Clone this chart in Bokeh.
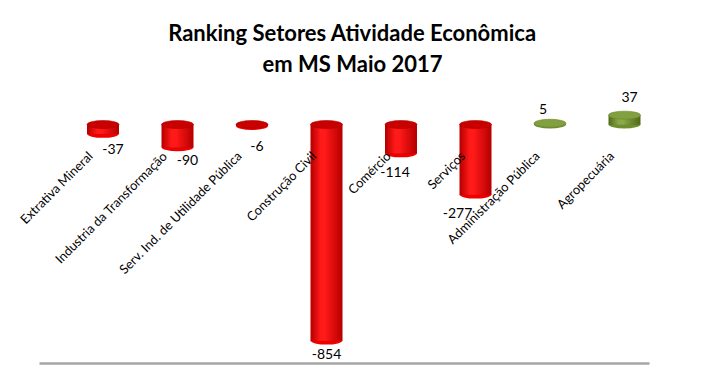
import numpy as np
from bokeh.plotting import figure
from bokeh.models import ColumnDataSource, Range1d
from bokeh.core.properties import value
from bokeh.embed import file_html
from bokeh.resources import INLINE

# ---- data ----
title_lines = ["Ranking Setores Atividade Econômica", "em MS Maio 2017"]
categories = ["Extrativa Mineral", "Industria da Transformação",
              "Serv. Ind. de Utilidade Pública", "Construção Civil",
              "Comércio", "Serviços", "Administração Pública", "Agropecuária"]
values = [-37, -90, -6, -854, -114, -277, 5, 37]

# ---- layout / style ----
W, H = 706, 379
SY = 0.253            # px per unit
ZERO_PX = 124         # zero plane, px from top
STEP_PX = 74.5        # px between bar centres
FIRST_PX = 102.5      # first bar centre, px from left
# data-label pixel offsets (3D perspective placement of the original)
label_dx = [10, 10, 5, 0, -6, -18, -7, 5]
label_dy = [15, 13, 20, 13, 19, 18, -14, -18]

y_top = ZERO_PX / SY
y_bot = y_top - H / SY
x_start = -FIRST_PX / STEP_PX
x_end = x_start + W / STEP_PX

def px2x(px):
    return x_start + px / STEP_PX

def px2y(py):
    return y_top - py / SY

p = figure(width=W, height=H, output_backend="svg", toolbar_location=None,
           x_range=Range1d(x_start, x_end), y_range=Range1d(y_bot, y_top),
           x_axis_location=None, y_axis_location=None, min_border=0)
p.grid.visible = False
p.outline_line_color = None
p.background_fill_color = "white"

FONT = "Lato"
bw = 32 / STEP_PX
NL = 10

def hex2rgb(h):
    return np.array([int(h[i:i + 2], 16) for i in (1, 3, 5)], dtype=float)

def ramp(c0, c1, n):
    a, b = hex2rgb(c0), hex2rgb(c1)
    out = []
    for t in np.linspace(0, 1, n):
        c = a + (b - a) * t
        out.append("#%02x%02x%02x" % tuple(int(round(v)) for v in c))
    return out

red_layers = ramp("#b80000", "#ff1a1a", NL)
green_layers = ramp("#516c1c", "#8aa948", NL)

xs = np.arange(len(categories))
vals = np.array(values, dtype=float)
ELL_H = 8

# bottom ellipses
bot_y = np.minimum(vals, 0)
bot_col = ["#ee0000" if v < 0 else "#6f8e30" for v in vals]
p.ellipse(x=xs, y=bot_y, width=bw, height=ELL_H, height_units="screen",
          fill_color=bot_col, line_color=None)

# bodies as nested shaded layers (highlight slightly left of centre)
lx, lw, ltop, lbot, lcol = [], [], [], [], []
for j in range(NL):
    frac = 1 - 0.9 * j / NL
    shift = -0.12 * bw * j / NL
    for i, v in enumerate(vals):
        cols = red_layers if v < 0 else green_layers
        lx.append(i + shift)
        lw.append(bw * frac)
        ltop.append(max(v, 0))
        lbot.append(min(v, 0))
        lcol.append(cols[j])
src = ColumnDataSource(dict(x=lx, w=lw, top=ltop, bottom=lbot, color=lcol))
p.vbar(x="x", top="top", bottom="bottom", width="w",
       fill_color="color", line_color=None, source=src)

# top caps
cap_y = np.maximum(vals, 0)
cap_col = ["#c80000" if v < 0 else "#82a03f" for v in vals]
cap_line = ["#b00000" if v < 0 else "#6a872c" for v in vals]
p.ellipse(x=xs, y=cap_y, width=bw, height=ELL_H, height_units="screen",
          fill_color=cap_col, line_color=cap_line, line_width=0.6)

# floor line
p.segment(x0=[px2x(39)], y0=[px2y(363)], x1=[px2x(649)], y1=[px2y(363)],
          line_color="#a6a6a6", line_width=2.5)

# value labels
lab_src = ColumnDataSource(dict(
    x=xs, y=vals, text=[str(v) for v in values],
    xo=label_dx, yo=label_dy))
p.text(x="x", y="y", text="text", x_offset="xo", y_offset="yo", source=lab_src,
       text_font=value(FONT), text_font_size="14px", text_color="black",
       text_align="center", text_baseline="middle")

# category labels (anchor = right end of the rotated text)
cat_src = ColumnDataSource(dict(x=xs - 13 / STEP_PX,
                                y=np.full(len(xs), -29 / SY),
                                text=categories))
p.text(x="x", y="y", text="text", source=cat_src, angle=np.pi / 4,
       text_font=value(FONT), text_font_size="12.8px", text_color="black",
       text_align="right", text_baseline="middle")

# title
p.text(x=[px2x(352), px2x(352)], y=[px2y(32), px2y(63)], text=title_lines,
       text_font=value(FONT), text_font_style="bold", text_font_size="22px",
       text_color="black", text_align="center", text_baseline="alphabetic")

open("out.html", "w").write(file_html(p, INLINE))
